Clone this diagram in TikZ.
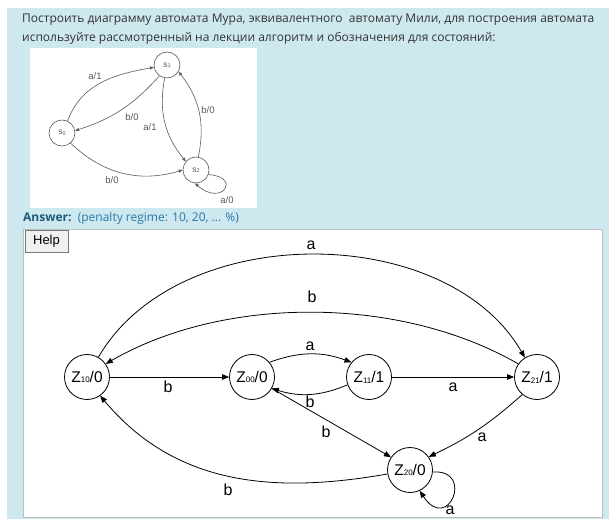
\documentclass[tikz,border=0pt]{standalone}
\usepackage{fontspec}
\setmainfont{Liberation Sans}
\newfontfamily\uifont{Open Sans}
\usetikzlibrary{arrows.meta}
\definecolor{pagebg}{RGB}{206,232,239}
\definecolor{txt}{RGB}{51,51,51}
\definecolor{anscol}{RGB}{28,90,120}
\definecolor{pencol}{RGB}{40,120,170}
\definecolor{sgray}{RGB}{90,90,90}
\definecolor{boxline}{RGB}{190,190,190}
\definecolor{btnfill}{RGB}{240,240,240}
\definecolor{btnline}{RGB}{120,120,120}
\newcommand\zsb[1]{\raisebox{-0.8pt}{\fontsize{8}{8}\selectfont #1}}
\newcommand\ssb[1]{\raisebox{-0.5pt}{\fontsize{5.5}{6}\selectfont #1}}
\begin{document}
\begin{tikzpicture}[x=1pt,y=1pt,
  state/.style={circle,draw,line width=0.8pt,minimum size=45pt,inner sep=0pt,font=\fontsize{15.5}{18}\selectfont},
  edge/.style={line width=0.8pt,-{Triangle[length=7pt,width=5.5pt]}},
  elabel/.style={font=\fontsize{16}{18}\selectfont,inner sep=0pt},
  sstate/.style={circle,draw=sgray,line width=0.6pt,minimum size=26pt,inner sep=0pt,font=\fontsize{8.5}{9}\selectfont,text=sgray},
  sedge/.style={draw=sgray,line width=0.6pt,-{Triangle[length=4pt,width=3pt]}},
  slabel/.style={font=\fontsize{9.5}{10}\selectfont,text=sgray,inner sep=0pt},
  uitext/.style={anchor=base west,inner sep=0pt,font=\uifont\fontsize{12}{15}\selectfont},
]
\useasboundingbox (0,0) rectangle (609,519);
\fill[white] (0,0) rectangle (609,519);
\fill[pagebg] (7,0) rectangle (609,511);

% question text
\node[uitext,text=txt] (q1) at (22,496.5) {Построить диаграмму автомата Мура, эквивалентного\ \ автомату Мили, для построения автомата};
\node[uitext,text=txt] (q2) at (22,477) {используйте рассмотренный на лекции алгоритм и обозначения для состояний:};

% small Mealy figure
\fill[white] (30,311) rectangle (257,471);
\node[sstate] (s1) at (167,454) {s\ssb{1}};
\node[sstate] (s0) at (62,386) {s\ssb{0}};
\node[sstate] (s2) at (196,349) {s\ssb{2}};
\draw[sedge] (s0.65) to[out=70,in=190] (s1.190);
\draw[sedge] (s1.235) to[bend left=15] (s0.10);
\draw[sedge] (s1.260) to[bend right=25] (s2.140);
\draw[sedge] (s2.80) to[bend right=25] (s1.-30);
\draw[sedge] (s0.-50) to[bend right=30] (s2.180);
\draw[sedge] (s2.-20) .. controls (242,342) and (222,312) .. (s2.-95);
\node[slabel] (l1) at (95,443) {a/1};
\node[slabel] (l2) at (132,402) {b/0};
\node[slabel] (l3) at (150,392) {a/1};
\node[slabel] (l4) at (208,409) {b/0};
\node[slabel] (l5) at (112,339) {b/0};
\node[slabel] (l6) at (227,319) {a/0};

% answer line
\node[uitext] (ans) at (23,297) {{\bfseries\color{anscol}Answer:}\ \ {\color{pencol}(penalty regime: 10, 20, ... \%)}};

% answer box
\draw[boxline,fill=white] (23,2) rectangle (602,290);
\node[draw=btnline,fill=btnfill,minimum width=43pt,minimum height=22pt,inner sep=0pt,font=\fontsize{13}{15}\selectfont] (help) at (46.5,278) {Help};

% Moore automaton
\node[state] (z10) at (87,142) {Z\zsb{10}/0};
\node[state] (z00) at (252,142) {Z\zsb{00}/0};
\node[state] (z11) at (369,142) {Z\zsb{11}/1};
\node[state] (z21) at (537,142) {Z\zsb{21}/1};
\node[state] (z20) at (410,49) {Z\zsb{20}/0};

\draw[edge] (z10.60) to[out=60,in=120,looseness=0.95] (z21.122);
\draw[edge] (z21.145) to[out=150,in=30,looseness=0.85] (z10.35);
\draw[edge] (z10) -- (z00);
\draw[edge] (z00.40) to[bend left=20] (z11.140);
\draw[edge] (z11.200) to[bend left=20] (z00.-30);
\draw[edge] (z11) -- (z21);
\draw[edge] (z00.-30) -- (z20.146);
\draw[edge] (z21.-130) to[bend left=8] (z20.35);
\draw[edge] (z20.-5) .. controls (475,50) and (448,-15) .. (z20.-65);
\draw[edge] (z20.190) to[out=190,in=-50] (z10.-55);

\node[elabel] (ea1) at (311,274) {a};
\node[elabel] (eb1) at (312,222) {b};
\node[elabel] (ea2) at (310,173) {a};
\node[elabel] (eb2) at (168,132) {b};
\node[elabel] (ea3) at (453,132) {a};
\node[elabel] (eb3) at (310,117) {b};
\node[elabel] (eb4) at (326,87) {b};
\node[elabel] (ea4) at (482,82) {a};
\node[elabel] (eb5) at (228,29) {b};
\node[elabel] (ea5) at (450,9) {a};
\end{tikzpicture}
\end{document}
